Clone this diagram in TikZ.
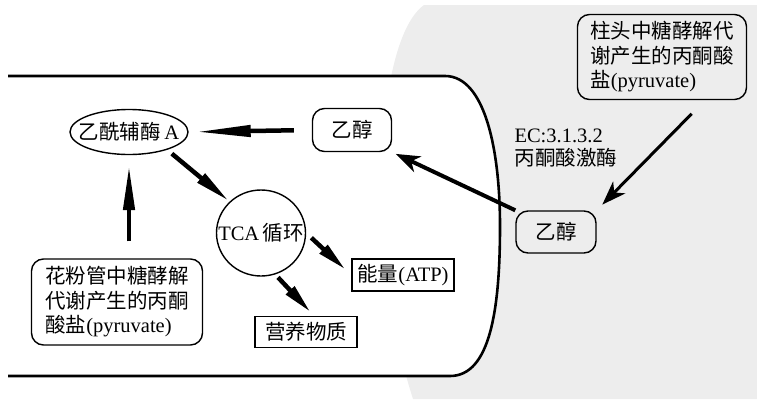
\documentclass[tikz,border=0pt]{standalone}
\usepackage{fontspec}
\setmainfont{Liberation Serif}
\newfontfamily\cjk{Noto Sans CJK SC}
\usetikzlibrary{arrows.meta,shapes.geometric}
\begin{document}
\begin{tikzpicture}[x=1pt,y=-1pt,
  font=\fontsize{20.5}{24.5}\selectfont,
  rbox/.style={draw, line width=1.4pt, rounded corners=12pt, inner sep=0pt, align=left},
  sbox/.style={draw, line width=1.4pt, inner sep=0pt},
  ebox/.style={ellipse, draw, line width=1.4pt, inner sep=0pt},
  tarrow/.style={line width=4.5pt, -{Triangle[length=#1, width=11pt]}},
  tarrow/.default=40pt,
  sarrow/.style={line width=#1, -{Stealth[length=24pt, width=17pt, inset=7pt]}},
  sarrow/.default=3pt]
\useasboundingbox (0,0) rectangle (757,399);
% grey stigma region
\fill[black!7] (757,5) -- (424,5) .. controls (375,40) and (365,250) .. (413,399) -- (757,399) -- cycle;
% pollen tube
\draw[line width=2.6pt, fill=white] (8,76) -- (445,76) .. controls (485,76) and (500,150) .. (500,226)
  .. controls (500,310) and (490,376) .. (450,376) -- (8,376);

% nodes
\node[ebox, minimum width=118pt, minimum height=45pt, label={center:{\cjk 乙酰辅酶}\,A}] (acoa) at (129,132) {};
\node[rbox, minimum width=79pt, minimum height=43pt] (eth1) at (352,130) {\cjk 乙醇};
\node[rbox, minimum width=80pt, minimum height=42pt] (eth2) at (556,232) {\cjk 乙醇};
\node[rbox, minimum width=169pt, minimum height=85pt] (pyr2) at (662,57) {{\cjk 柱头中糖酵解代}\\{\cjk 谢产生的丙酮酸}\\{\cjk 盐}(pyruvate)};
\node[rbox, minimum width=171pt, minimum height=86pt] (pyr1) at (117,302) {{\cjk 花粉管中糖酵解}\\{\cjk 代谢产生的丙酮}\\{\cjk 酸盐}(pyruvate)};
\node[ebox, minimum width=89pt, minimum height=86pt, label={center:TCA\,{\cjk 循环}}] (tca) at (261,233) {};
\node[sbox, minimum width=102pt, minimum height=32pt] (atp) at (403,275) {{\cjk 能量}(ATP)};
\node[sbox, minimum width=102pt, minimum height=31pt] (nut) at (306,332) {\cjk 营养物质};
\node[anchor=west, align=left, font=\fontsize{20.5}{23}\selectfont] (ec) at (511,148) {EC:3.1.3.2\\{\cjk 丙酮酸激酶}};

% connectors
\draw[tarrow=55pt, shorten <=18pt, shorten >=7pt] (eth1.west) -- (acoa.east);
\draw[tarrow=45pt, shorten <=17pt, shorten >=10pt] (acoa.south |- pyr1.north) -- (acoa.south);
\draw[tarrow=36pt, shorten <=6pt, shorten >=1pt] (acoa.-25) -- (tca.135);
\draw[tarrow=30pt, shorten <=7pt, shorten >=8pt] (tca.east) -- (atp.west);
\draw[tarrow=30pt, shorten <=4pt, shorten >=5pt] (tca.-71) -- ([xshift=8pt]nut.north);
\draw[sarrow=4pt, shorten >=4pt] (eth2.north west) -- (eth1.south east);
\draw[sarrow=3pt, shorten <=19pt, shorten >=8pt] ([xshift=43pt]pyr2.south) -- (eth2.north east);
\end{tikzpicture}
\end{document}
